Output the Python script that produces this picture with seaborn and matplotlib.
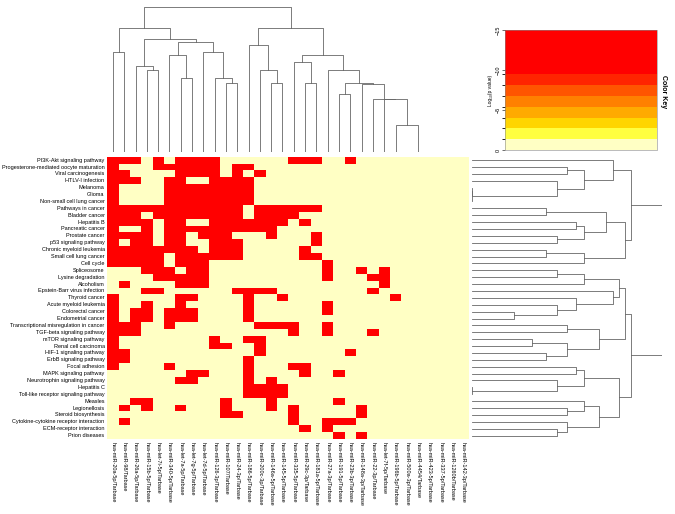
import numpy as np
import pandas as pd
import matplotlib
matplotlib.use("Agg")
import matplotlib.pyplot as plt
import seaborn as sns
from matplotlib.colors import ListedColormap, BoundaryNorm
from matplotlib.cm import ScalarMappable

# ── Data ──────────────────────────────────────────────────────────────────────
pathways = [
    "PI3K-Akt signaling pathway", "Progesterone-mediated oocyte maturation",
    "Viral carcinogenesis", "HTLV-I infection", "Melanoma", "Glioma",
    "Non-small cell lung cancer", "Pathways in cancer", "Bladder cancer",
    "Hepatitis B", "Pancreatic cancer", "Prostate cancer",
    "p53 signaling pathway", "Chronic myeloid leukemia",
    "Small cell lung cancer", "Cell cycle", "Spliceosome",
    "Lysine degradation", "Alcoholism", "Epstein-Barr virus infection",
    "Thyroid cancer", "Acute myeloid leukemia", "Colorectal cancer",
    "Endometrial cancer", "Transcriptional misregulation in cancer",
    "TGF-beta signaling pathway", "mTOR signaling pathway",
    "Renal cell carcinoma", "HIF-1 signaling pathway",
    "ErbB signaling pathway", "Focal adhesion", "MAPK signaling pathway",
    "Neurotrophin signaling pathway", "Hepatitis C",
    "Toll-like receptor signaling pathway", "Measles", "Legionellosis",
    "Steroid biosynthesis", "Cytokine-cytokine receptor interaction",
    "ECM-receptor interaction", "Prion diseases",
]

mirnas = [
    "hsa-miR-20a-5p", "hsa-miR-98", "hsa-miR-26a-5p", "hsa-miR-15b-5p",
    "hsa-let-7i-5p", "hsa-miR-340-5p", "hsa-let-7a-5p", "hsa-let-7g-5p",
    "hsa-let-7d-5p", "hsa-miR-126-3p", "hsa-miR-107", "hsa-miR-24-3p",
    "hsa-miR-186-5p", "hsa-miR-200c-3p", "hsa-miR-146a-5p", "hsa-miR-145-5p",
    "hsa-miR-335-5p", "hsa-miR-29c-3p", "hsa-miR-181a-5p", "hsa-miR-27a-3p",
    "hsa-miR-191-5p", "hsa-miR-23b-3p", "hsa-miR-148a-3p", "hsa-miR-22-3p",
    "hsa-let-7f-5p", "hsa-miR-196b-5p", "hsa-miR-500a-3p", "hsa-miR-4454",
    "hsa-miR-423-5p", "hsa-miR-337-5p", "hsa-miR-1260b", "hsa-miR-142-3p",
]
col_labels = [m + "/Tarbase" for m in mirnas]

# significant (red) cells: column indices per pathway row
hits = [
    [0, 1, 2, 4, 6, 7, 8, 9, 16, 17, 18, 21],
    [0, 4, 5, 6, 7, 8, 9, 11, 12],
    [0, 1, 6, 7, 8, 9, 11, 13],
    [0, 1, 2, 5, 6, 9, 10, 11, 12],
    [0, 5, 6, 7, 8, 9, 10, 11, 12],
    [0, 5, 6, 7, 8, 9, 10, 11, 12],
    [0, 5, 6, 7, 8, 9, 10, 11, 12],
    [0, 1, 2, 3, 4, 5, 6, 7, 8, 9, 10, 11, 13, 14, 15, 16, 17, 18],
    [0, 1, 2, 4, 5, 6, 7, 8, 9, 10, 11, 13, 14, 15, 16],
    [0, 1, 2, 3, 5, 6, 9, 10, 11, 12, 13, 14, 15, 17],
    [0, 3, 5, 6, 7, 8, 9, 10, 11, 12, 13, 14],
    [0, 1, 2, 3, 5, 6, 8, 9, 10, 14, 18],
    [0, 2, 3, 5, 6, 9, 10, 11, 18],
    [0, 1, 2, 3, 4, 5, 6, 7, 9, 10, 11, 17],
    [0, 1, 2, 3, 4, 6, 7, 8, 9, 10, 11, 17, 18],
    [0, 1, 2, 3, 4, 6, 7, 8, 19],
    [3, 4, 5, 7, 8, 19, 22, 24],
    [4, 5, 6, 7, 8, 19, 23, 24],
    [1, 6, 7, 8, 24],
    [3, 4, 11, 12, 13, 14, 23],
    [0, 6, 7, 12, 15, 25],
    [0, 3, 6, 12, 19],
    [0, 2, 3, 5, 6, 7, 12, 19],
    [0, 2, 3, 5, 6, 7, 12],
    [0, 1, 2, 5, 13, 14, 15, 16, 19],
    [0, 1, 2, 16, 19, 23],
    [0, 9, 12, 13],
    [0, 9, 10, 13],
    [0, 1, 13, 21],
    [0, 1, 12],
    [0, 5, 12, 16, 17],
    [7, 8, 12, 17, 20],
    [6, 7, 12, 14],
    [12, 13, 14, 15],
    [12, 13, 14, 15],
    [2, 3, 10, 14, 20],
    [1, 3, 6, 10, 14, 16, 22],
    [10, 11, 16, 22],
    [1, 16, 19, 20, 21],
    [17, 19],
    [20, 22],
]
hit_value = -15  # log10 p value of an enriched cell

# colour key
key_bounds = [-15, -9.45, -8.1, -6.75, -5.4, -4.05, -2.7, -1.35, 0]
key_colors = ["#FF0000", "#FF2400", "#FF5500", "#FF8000", "#FFAA00",
              "#FFD500", "#FFFF40", "#FFFFC4"]
key_ticks = [-15, -10, -5, 0]

# column dendrogram: (left, right, height)
zero_cols = (26, (27, (28, (29, (30, 31, 0), 0), 0), 0), 0)
col_tree = (
    ((0, 1, 100.3),
     ((2, (3, 4, 82), 86.3),
      ((5, (6, 7, 73.7), 97),
       (8, (9, (10, 11, 68.7), 73.7), 100.3), 109.7), 112.7), 123.7),
    ((12, (13, (14, 15, 68.7), 82), 107),
     ((16, (17, 18, 68.7), 90.3),
      (19, ((20, 21, 58),
            (22, (23, (24, (25, zero_cols, 27), 52.7), 53.5), 68.5),
            68.7), 82), 97), 123.7),
    144.7)


def adjacent_linkage(X):
    """Complete-linkage clustering that keeps the displayed row order."""
    D = np.sqrt(((X[:, None, :] - X[None, :, :]) ** 2).sum(-1))
    nodes = list(range(len(X)))
    members = [[i] for i in range(len(X))]
    while len(nodes) > 1:
        ds = [D[np.ix_(members[i], members[i + 1])].max()
              for i in range(len(nodes) - 1)]
        i = int(np.argmin(ds))
        nodes[i:i + 2] = [(nodes[i], nodes[i + 1], ds[i])]
        members[i:i + 2] = [members[i] + members[i + 1]]
    return nodes[0]


def draw_tree(ax, node, vertical):
    """Draw a dendrogram node, return (leaf-axis position, height)."""
    if isinstance(node, int):
        return node + 0.5, 0
    left, right, h = node
    pl, hl = draw_tree(ax, left, vertical)
    pr, hr = draw_tree(ax, right, vertical)
    xs, ys = [pl, pl, pr, pr], [hl, h, h, hr]
    if vertical:
        ax.plot(xs, ys, color="#666666", lw=0.6)
    else:
        ax.plot(ys, xs, color="#666666", lw=0.6)
    return (pl + pr) / 2, h


# ── Matrix ────────────────────────────────────────────────────────────────────
mat = np.zeros((len(pathways), len(mirnas)))
for r, cols in enumerate(hits):
    mat[r, cols] = hit_value
df = pd.DataFrame(mat, index=pathways, columns=col_labels)
row_tree = adjacent_linkage(mat)

cmap = ListedColormap(key_colors)
norm = BoundaryNorm(key_bounds, cmap.N, clip=True)

plt.rcParams["font.family"] = ["Liberation Sans", "DejaVu Sans"]
W, H = 675, 514
fig = plt.figure(figsize=(W / 100, H / 100), dpi=100)


def frac(x0, y0, x1, y1):
    return [x0 / W, 1 - y1 / H, (x1 - x0) / W, (y1 - y0) / H]


# heatmap
ax = fig.add_axes(frac(107.3, 156.7, 469, 439))
sns.heatmap(df, cmap=cmap, norm=norm, cbar=False, ax=ax,
            xticklabels=True, yticklabels=True)
ax.tick_params(length=0, labelsize=4, pad=2)
ax.set_xticklabels(col_labels, rotation=270, fontsize=4, va="top", ha="center")
ax.set_yticklabels(pathways, rotation=0, fontsize=4)
ax.set_xlabel("")
ax.set_ylabel("")

# column dendrogram
axc = fig.add_axes(frac(107.3, 7.3, 469, 152))
draw_tree(axc, col_tree, vertical=True)
axc.set_xlim(0, len(mirnas))
axc.set_ylim(0, 144.7)
axc.axis("off")

# row dendrogram
axr = fig.add_axes(frac(472, 156.7, 662, 439))
draw_tree(axr, row_tree, vertical=False)
axr.set_ylim(len(pathways), 0)
axr.set_xlim(0, row_tree[2])
axr.axis("off")

# colour key
axk = fig.add_axes(frac(505, 30, 657, 150))
cb = fig.colorbar(ScalarMappable(norm=norm, cmap=cmap), cax=axk,
                  spacing="proportional", ticks=key_ticks)
axk.invert_yaxis()
axk.yaxis.set_ticks_position("left")
axk.yaxis.set_label_position("left")
axk.tick_params(labelsize=4, length=2, width=0.4, pad=1)
for t in axk.get_yticklabels():
    t.set_rotation(90)
    t.set_va("center")
axk.set_ylabel("Log₁₀(p value)", fontsize=3.5, labelpad=2)
cb.outline.set_linewidth(0.4)
cb.outline.set_edgecolor("#888888")
fig.text(663 / W, 1 - 92 / H, "Color Key", rotation=-90, fontsize=5,
         fontweight="bold", ha="center", va="center")

fig.savefig("out.png", dpi=100)
